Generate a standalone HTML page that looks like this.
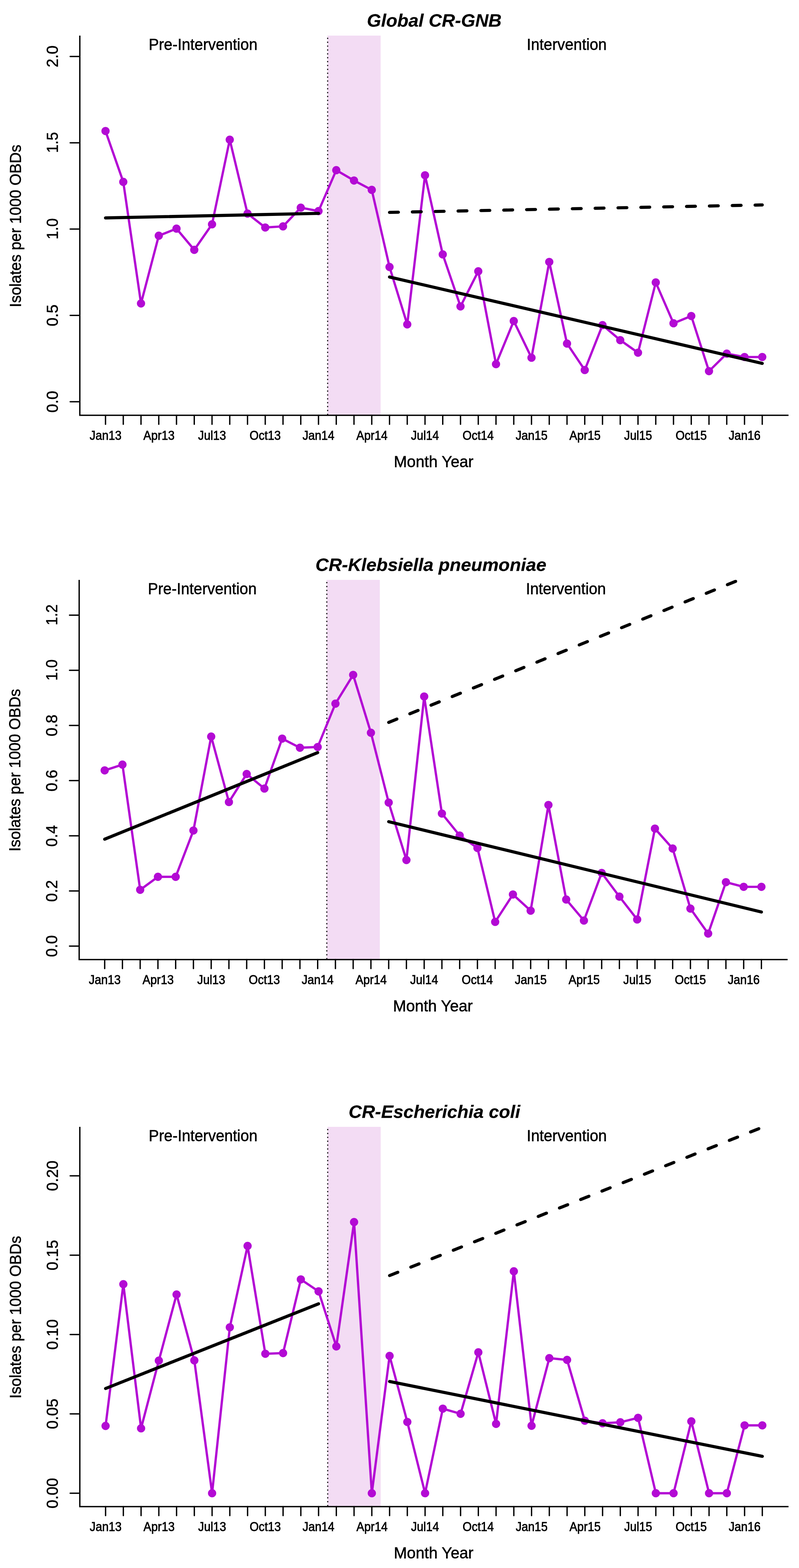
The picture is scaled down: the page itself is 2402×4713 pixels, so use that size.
<!DOCTYPE html>
<html><head><meta charset="utf-8"><title>ITS plots</title>
<style>html,body{margin:0;padding:0;background:#fff;}svg{display:block;}</style>
</head><body>
<svg width="2402" height="4713" viewBox="0 0 2402 4713" font-family="&quot;Liberation Sans&quot;, Arial, sans-serif">
<rect width="2402" height="4713" fill="#fff"/>
<clipPath id="clip0"><rect x="240.0" y="107.0" width="2130.5" height="1141.3"/></clipPath>
<rect x="984.2" y="107.0" width="160.1" height="1141.3" fill="#F3DCF4"/>
<line x1="985.0" y1="107.0" x2="985.0" y2="1248.3" stroke="#000" stroke-width="3.9" stroke-dasharray="0 11.65" stroke-dashoffset="-8.3" stroke-linecap="round"/>
<polyline points="317.2,393.8 370.6,546.7 423.9,912.1 477.3,708.5 530.6,687.2 584.0,751.0 637.4,674.2 690.7,419.9 744.1,642.0 797.4,683.8 850.8,680.4 904.2,624.2 957.5,634.5 1010.9,511.5 1064.2,542.6 1117.6,570.7 1171.0,802.4 1224.3,975.1 1277.7,526.8 1331.0,764.7 1384.4,921.0 1437.8,815.4 1491.1,1094.4 1544.5,964.9 1597.8,1075.2 1651.2,787.3 1704.6,1032.7 1757.9,1112.2 1811.3,977.2 1864.6,1022.4 1918.0,1060.1 1971.4,849.0 2024.7,971.7 2078.1,949.8 2131.4,1115.6 2184.8,1062.9 2238.2,1073.1 2291.5,1073.1" fill="none" stroke="#B30AD4" stroke-width="6.9" stroke-linejoin="round"/>
<circle cx="317.2" cy="393.8" r="12.4" fill="#B30AD4"/>
<circle cx="370.6" cy="546.7" r="12.4" fill="#B30AD4"/>
<circle cx="423.9" cy="912.1" r="12.4" fill="#B30AD4"/>
<circle cx="477.3" cy="708.5" r="12.4" fill="#B30AD4"/>
<circle cx="530.6" cy="687.2" r="12.4" fill="#B30AD4"/>
<circle cx="584.0" cy="751.0" r="12.4" fill="#B30AD4"/>
<circle cx="637.4" cy="674.2" r="12.4" fill="#B30AD4"/>
<circle cx="690.7" cy="419.9" r="12.4" fill="#B30AD4"/>
<circle cx="744.1" cy="642.0" r="12.4" fill="#B30AD4"/>
<circle cx="797.4" cy="683.8" r="12.4" fill="#B30AD4"/>
<circle cx="850.8" cy="680.4" r="12.4" fill="#B30AD4"/>
<circle cx="904.2" cy="624.2" r="12.4" fill="#B30AD4"/>
<circle cx="957.5" cy="634.5" r="12.4" fill="#B30AD4"/>
<circle cx="1010.9" cy="511.5" r="12.4" fill="#B30AD4"/>
<circle cx="1064.2" cy="542.6" r="12.4" fill="#B30AD4"/>
<circle cx="1117.6" cy="570.7" r="12.4" fill="#B30AD4"/>
<circle cx="1171.0" cy="802.4" r="12.4" fill="#B30AD4"/>
<circle cx="1224.3" cy="975.1" r="12.4" fill="#B30AD4"/>
<circle cx="1277.7" cy="526.8" r="12.4" fill="#B30AD4"/>
<circle cx="1331.0" cy="764.7" r="12.4" fill="#B30AD4"/>
<circle cx="1384.4" cy="921.0" r="12.4" fill="#B30AD4"/>
<circle cx="1437.8" cy="815.4" r="12.4" fill="#B30AD4"/>
<circle cx="1491.1" cy="1094.4" r="12.4" fill="#B30AD4"/>
<circle cx="1544.5" cy="964.9" r="12.4" fill="#B30AD4"/>
<circle cx="1597.8" cy="1075.2" r="12.4" fill="#B30AD4"/>
<circle cx="1651.2" cy="787.3" r="12.4" fill="#B30AD4"/>
<circle cx="1704.6" cy="1032.7" r="12.4" fill="#B30AD4"/>
<circle cx="1757.9" cy="1112.2" r="12.4" fill="#B30AD4"/>
<circle cx="1811.3" cy="977.2" r="12.4" fill="#B30AD4"/>
<circle cx="1864.6" cy="1022.4" r="12.4" fill="#B30AD4"/>
<circle cx="1918.0" cy="1060.1" r="12.4" fill="#B30AD4"/>
<circle cx="1971.4" cy="849.0" r="12.4" fill="#B30AD4"/>
<circle cx="2024.7" cy="971.7" r="12.4" fill="#B30AD4"/>
<circle cx="2078.1" cy="949.8" r="12.4" fill="#B30AD4"/>
<circle cx="2131.4" cy="1115.6" r="12.4" fill="#B30AD4"/>
<circle cx="2184.8" cy="1062.9" r="12.4" fill="#B30AD4"/>
<circle cx="2238.2" cy="1073.1" r="12.4" fill="#B30AD4"/>
<circle cx="2291.5" cy="1073.1" r="12.4" fill="#B30AD4"/>
<line x1="317.2" y1="655.0" x2="957.5" y2="641.4" stroke="#000" stroke-width="9.4" stroke-linecap="round"/>
<line x1="1171.0" y1="832.6" x2="2291.5" y2="1092.3" stroke="#000" stroke-width="9.4" stroke-linecap="round"/>
<g clip-path="url(#clip0)"><line x1="1171.0" y1="638.4" x2="2291.5" y2="616.0" stroke="#000" stroke-width="9.4" stroke-linecap="round" stroke-dasharray="26.6 42.1"/></g>
<path d="M240.0,107.0 V1248.3 H2370.5" fill="none" stroke="#000" stroke-width="4" stroke-linecap="butt" stroke-linejoin="miter"/>
<line x1="211.0" y1="1207.5" x2="240.0" y2="1207.5" stroke="#000" stroke-width="4" stroke-linecap="round"/>
<line x1="211.0" y1="948.0" x2="240.0" y2="948.0" stroke="#000" stroke-width="4" stroke-linecap="round"/>
<line x1="211.0" y1="688.6" x2="240.0" y2="688.6" stroke="#000" stroke-width="4" stroke-linecap="round"/>
<line x1="211.0" y1="429.2" x2="240.0" y2="429.2" stroke="#000" stroke-width="4" stroke-linecap="round"/>
<line x1="211.0" y1="169.7" x2="240.0" y2="169.7" stroke="#000" stroke-width="4" stroke-linecap="round"/>
<line x1="317.2" y1="1248.3" x2="317.2" y2="1275.3" stroke="#000" stroke-width="4" stroke-linecap="round"/>
<line x1="370.6" y1="1248.3" x2="370.6" y2="1275.3" stroke="#000" stroke-width="4" stroke-linecap="round"/>
<line x1="423.9" y1="1248.3" x2="423.9" y2="1275.3" stroke="#000" stroke-width="4" stroke-linecap="round"/>
<line x1="477.3" y1="1248.3" x2="477.3" y2="1275.3" stroke="#000" stroke-width="4" stroke-linecap="round"/>
<line x1="530.6" y1="1248.3" x2="530.6" y2="1275.3" stroke="#000" stroke-width="4" stroke-linecap="round"/>
<line x1="584.0" y1="1248.3" x2="584.0" y2="1275.3" stroke="#000" stroke-width="4" stroke-linecap="round"/>
<line x1="637.4" y1="1248.3" x2="637.4" y2="1275.3" stroke="#000" stroke-width="4" stroke-linecap="round"/>
<line x1="690.7" y1="1248.3" x2="690.7" y2="1275.3" stroke="#000" stroke-width="4" stroke-linecap="round"/>
<line x1="744.1" y1="1248.3" x2="744.1" y2="1275.3" stroke="#000" stroke-width="4" stroke-linecap="round"/>
<line x1="797.4" y1="1248.3" x2="797.4" y2="1275.3" stroke="#000" stroke-width="4" stroke-linecap="round"/>
<line x1="850.8" y1="1248.3" x2="850.8" y2="1275.3" stroke="#000" stroke-width="4" stroke-linecap="round"/>
<line x1="904.2" y1="1248.3" x2="904.2" y2="1275.3" stroke="#000" stroke-width="4" stroke-linecap="round"/>
<line x1="957.5" y1="1248.3" x2="957.5" y2="1275.3" stroke="#000" stroke-width="4" stroke-linecap="round"/>
<line x1="1010.9" y1="1248.3" x2="1010.9" y2="1275.3" stroke="#000" stroke-width="4" stroke-linecap="round"/>
<line x1="1064.2" y1="1248.3" x2="1064.2" y2="1275.3" stroke="#000" stroke-width="4" stroke-linecap="round"/>
<line x1="1117.6" y1="1248.3" x2="1117.6" y2="1275.3" stroke="#000" stroke-width="4" stroke-linecap="round"/>
<line x1="1171.0" y1="1248.3" x2="1171.0" y2="1275.3" stroke="#000" stroke-width="4" stroke-linecap="round"/>
<line x1="1224.3" y1="1248.3" x2="1224.3" y2="1275.3" stroke="#000" stroke-width="4" stroke-linecap="round"/>
<line x1="1277.7" y1="1248.3" x2="1277.7" y2="1275.3" stroke="#000" stroke-width="4" stroke-linecap="round"/>
<line x1="1331.0" y1="1248.3" x2="1331.0" y2="1275.3" stroke="#000" stroke-width="4" stroke-linecap="round"/>
<line x1="1384.4" y1="1248.3" x2="1384.4" y2="1275.3" stroke="#000" stroke-width="4" stroke-linecap="round"/>
<line x1="1437.8" y1="1248.3" x2="1437.8" y2="1275.3" stroke="#000" stroke-width="4" stroke-linecap="round"/>
<line x1="1491.1" y1="1248.3" x2="1491.1" y2="1275.3" stroke="#000" stroke-width="4" stroke-linecap="round"/>
<line x1="1544.5" y1="1248.3" x2="1544.5" y2="1275.3" stroke="#000" stroke-width="4" stroke-linecap="round"/>
<line x1="1597.8" y1="1248.3" x2="1597.8" y2="1275.3" stroke="#000" stroke-width="4" stroke-linecap="round"/>
<line x1="1651.2" y1="1248.3" x2="1651.2" y2="1275.3" stroke="#000" stroke-width="4" stroke-linecap="round"/>
<line x1="1704.6" y1="1248.3" x2="1704.6" y2="1275.3" stroke="#000" stroke-width="4" stroke-linecap="round"/>
<line x1="1757.9" y1="1248.3" x2="1757.9" y2="1275.3" stroke="#000" stroke-width="4" stroke-linecap="round"/>
<line x1="1811.3" y1="1248.3" x2="1811.3" y2="1275.3" stroke="#000" stroke-width="4" stroke-linecap="round"/>
<line x1="1864.6" y1="1248.3" x2="1864.6" y2="1275.3" stroke="#000" stroke-width="4" stroke-linecap="round"/>
<line x1="1918.0" y1="1248.3" x2="1918.0" y2="1275.3" stroke="#000" stroke-width="4" stroke-linecap="round"/>
<line x1="1971.4" y1="1248.3" x2="1971.4" y2="1275.3" stroke="#000" stroke-width="4" stroke-linecap="round"/>
<line x1="2024.7" y1="1248.3" x2="2024.7" y2="1275.3" stroke="#000" stroke-width="4" stroke-linecap="round"/>
<line x1="2078.1" y1="1248.3" x2="2078.1" y2="1275.3" stroke="#000" stroke-width="4" stroke-linecap="round"/>
<line x1="2131.4" y1="1248.3" x2="2131.4" y2="1275.3" stroke="#000" stroke-width="4" stroke-linecap="round"/>
<line x1="2184.8" y1="1248.3" x2="2184.8" y2="1275.3" stroke="#000" stroke-width="4" stroke-linecap="round"/>
<line x1="2238.2" y1="1248.3" x2="2238.2" y2="1275.3" stroke="#000" stroke-width="4" stroke-linecap="round"/>
<line x1="2291.5" y1="1248.3" x2="2291.5" y2="1275.3" stroke="#000" stroke-width="4" stroke-linecap="round"/>
<text transform="translate(1103.1,79.5) scale(1.0053,1)" font-size="54.5" font-weight="bold" font-style="italic" stroke="#000" stroke-width="0.3">Global CR-GNB</text>
<text transform="translate(446.9,150.0) scale(0.9384,1)" font-size="49.0" stroke="#000" stroke-width="0.8">Pre-Intervention</text>
<text transform="translate(1583.4,150.0) scale(0.9395,1)" font-size="49.0" stroke="#000" stroke-width="0.8">Intervention</text>
<text transform="translate(269.6,1322.3) scale(0.9070,1)" font-size="38.8" stroke="#000" stroke-width="1.1">Jan13</text>
<text transform="translate(431.0,1322.3) scale(0.9070,1)" font-size="38.8" stroke="#000" stroke-width="1.1">Apr13</text>
<text transform="translate(595.6,1322.3) scale(0.9070,1)" font-size="38.8" stroke="#000" stroke-width="1.1">Jul13</text>
<text transform="translate(750.3,1322.3) scale(0.9070,1)" font-size="38.8" stroke="#000" stroke-width="1.1">Oct13</text>
<text transform="translate(909.4,1322.3) scale(0.9070,1)" font-size="38.8" stroke="#000" stroke-width="1.1">Jan14</text>
<text transform="translate(1071.3,1322.3) scale(0.9070,1)" font-size="38.8" stroke="#000" stroke-width="1.1">Apr14</text>
<text transform="translate(1235.5,1322.3) scale(0.9070,1)" font-size="38.8" stroke="#000" stroke-width="1.1">Jul14</text>
<text transform="translate(1390.6,1322.3) scale(0.9070,1)" font-size="38.8" stroke="#000" stroke-width="1.1">Oct14</text>
<text transform="translate(1550.2,1322.3) scale(0.9070,1)" font-size="38.8" stroke="#000" stroke-width="1.1">Jan15</text>
<text transform="translate(1711.7,1322.3) scale(0.9070,1)" font-size="38.8" stroke="#000" stroke-width="1.1">Apr15</text>
<text transform="translate(1876.3,1322.3) scale(0.9070,1)" font-size="38.8" stroke="#000" stroke-width="1.1">Jul15</text>
<text transform="translate(2030.9,1322.3) scale(0.9070,1)" font-size="38.8" stroke="#000" stroke-width="1.1">Oct15</text>
<text transform="translate(2190.5,1322.3) scale(0.9070,1)" font-size="38.8" stroke="#000" stroke-width="1.1">Jan16</text>
<text transform="translate(1183.9,1404.3) scale(0.9866,1)" font-size="48.0" stroke="#000" stroke-width="0.8">Month Year</text>
<text transform="translate(63.0,923.4) rotate(-90) scale(0.9432,1)" font-size="48.8" stroke="#000" stroke-width="0.8">Isolates per 1000 OBDs</text>
<text transform="translate(173.5,1240.3) rotate(-90) scale(0.9641,1)" font-size="49.0" stroke="#000" stroke-width="0.8">0.0</text>
<text transform="translate(173.5,980.8) rotate(-90) scale(0.9641,1)" font-size="49.0" stroke="#000" stroke-width="0.8">0.5</text>
<text transform="translate(173.5,719.6) rotate(-90) scale(0.9355,1)" font-size="49.0" stroke="#000" stroke-width="0.8">1.0</text>
<text transform="translate(173.5,459.6) rotate(-90) scale(0.9194,1)" font-size="49.0" stroke="#000" stroke-width="0.8">1.5</text>
<text transform="translate(173.5,202.5) rotate(-90) scale(0.9641,1)" font-size="49.0" stroke="#000" stroke-width="0.8">2.0</text>
<clipPath id="clip1"><rect x="238.0" y="1743.0" width="2129.8" height="1141.1999999999998"/></clipPath>
<rect x="981.7" y="1743.0" width="160.1" height="1141.2" fill="#F3DCF4"/>
<line x1="982.5" y1="1743.0" x2="982.5" y2="2884.2" stroke="#000" stroke-width="3.9" stroke-dasharray="0 11.65" stroke-dashoffset="-8.3" stroke-linecap="round"/>
<polyline points="314.7,2315.6 368.1,2298.2 421.4,2674.6 474.8,2635.5 528.1,2635.5 581.5,2496.3 634.9,2213.9 688.2,2410.7 741.6,2326.4 794.9,2370.2 848.3,2220.1 901.7,2247.5 955.0,2245.3 1008.4,2115.0 1061.7,2028.6 1115.1,2202.5 1168.5,2412.3 1221.8,2585.0 1275.2,2093.6 1328.5,2445.3 1381.9,2511.3 1435.3,2548.8 1488.6,2770.9 1542.0,2688.6 1595.3,2737.3 1648.7,2419.6 1702.1,2703.7 1755.4,2766.9 1808.8,2623.8 1862.1,2695.0 1915.5,2763.7 1968.9,2490.6 2022.2,2550.5 2075.6,2731.0 2128.9,2806.1 2182.3,2651.6 2235.7,2665.6 2289.0,2665.6" fill="none" stroke="#B30AD4" stroke-width="6.9" stroke-linejoin="round"/>
<circle cx="314.7" cy="2315.6" r="12.4" fill="#B30AD4"/>
<circle cx="368.1" cy="2298.2" r="12.4" fill="#B30AD4"/>
<circle cx="421.4" cy="2674.6" r="12.4" fill="#B30AD4"/>
<circle cx="474.8" cy="2635.5" r="12.4" fill="#B30AD4"/>
<circle cx="528.1" cy="2635.5" r="12.4" fill="#B30AD4"/>
<circle cx="581.5" cy="2496.3" r="12.4" fill="#B30AD4"/>
<circle cx="634.9" cy="2213.9" r="12.4" fill="#B30AD4"/>
<circle cx="688.2" cy="2410.7" r="12.4" fill="#B30AD4"/>
<circle cx="741.6" cy="2326.4" r="12.4" fill="#B30AD4"/>
<circle cx="794.9" cy="2370.2" r="12.4" fill="#B30AD4"/>
<circle cx="848.3" cy="2220.1" r="12.4" fill="#B30AD4"/>
<circle cx="901.7" cy="2247.5" r="12.4" fill="#B30AD4"/>
<circle cx="955.0" cy="2245.3" r="12.4" fill="#B30AD4"/>
<circle cx="1008.4" cy="2115.0" r="12.4" fill="#B30AD4"/>
<circle cx="1061.7" cy="2028.6" r="12.4" fill="#B30AD4"/>
<circle cx="1115.1" cy="2202.5" r="12.4" fill="#B30AD4"/>
<circle cx="1168.5" cy="2412.3" r="12.4" fill="#B30AD4"/>
<circle cx="1221.8" cy="2585.0" r="12.4" fill="#B30AD4"/>
<circle cx="1275.2" cy="2093.6" r="12.4" fill="#B30AD4"/>
<circle cx="1328.5" cy="2445.3" r="12.4" fill="#B30AD4"/>
<circle cx="1381.9" cy="2511.3" r="12.4" fill="#B30AD4"/>
<circle cx="1435.3" cy="2548.8" r="12.4" fill="#B30AD4"/>
<circle cx="1488.6" cy="2770.9" r="12.4" fill="#B30AD4"/>
<circle cx="1542.0" cy="2688.6" r="12.4" fill="#B30AD4"/>
<circle cx="1595.3" cy="2737.3" r="12.4" fill="#B30AD4"/>
<circle cx="1648.7" cy="2419.6" r="12.4" fill="#B30AD4"/>
<circle cx="1702.1" cy="2703.7" r="12.4" fill="#B30AD4"/>
<circle cx="1755.4" cy="2766.9" r="12.4" fill="#B30AD4"/>
<circle cx="1808.8" cy="2623.8" r="12.4" fill="#B30AD4"/>
<circle cx="1862.1" cy="2695.0" r="12.4" fill="#B30AD4"/>
<circle cx="1915.5" cy="2763.7" r="12.4" fill="#B30AD4"/>
<circle cx="1968.9" cy="2490.6" r="12.4" fill="#B30AD4"/>
<circle cx="2022.2" cy="2550.5" r="12.4" fill="#B30AD4"/>
<circle cx="2075.6" cy="2731.0" r="12.4" fill="#B30AD4"/>
<circle cx="2128.9" cy="2806.1" r="12.4" fill="#B30AD4"/>
<circle cx="2182.3" cy="2651.6" r="12.4" fill="#B30AD4"/>
<circle cx="2235.7" cy="2665.6" r="12.4" fill="#B30AD4"/>
<circle cx="2289.0" cy="2665.6" r="12.4" fill="#B30AD4"/>
<line x1="314.7" y1="2522.4" x2="955.0" y2="2262.2" stroke="#000" stroke-width="9.4" stroke-linecap="round"/>
<line x1="1168.5" y1="2469.8" x2="2289.0" y2="2741.3" stroke="#000" stroke-width="9.4" stroke-linecap="round"/>
<g clip-path="url(#clip1)"><line x1="1168.5" y1="2171.3" x2="2289.0" y2="1715.9" stroke="#000" stroke-width="9.4" stroke-linecap="round" stroke-dasharray="26.6 42.1"/></g>
<path d="M238.0,1743.0 V2884.2 H2367.8" fill="none" stroke="#000" stroke-width="4" stroke-linecap="butt" stroke-linejoin="miter"/>
<line x1="209.0" y1="2843.8" x2="238.0" y2="2843.8" stroke="#000" stroke-width="4" stroke-linecap="round"/>
<line x1="209.0" y1="2678.0" x2="238.0" y2="2678.0" stroke="#000" stroke-width="4" stroke-linecap="round"/>
<line x1="209.0" y1="2512.2" x2="238.0" y2="2512.2" stroke="#000" stroke-width="4" stroke-linecap="round"/>
<line x1="209.0" y1="2346.3" x2="238.0" y2="2346.3" stroke="#000" stroke-width="4" stroke-linecap="round"/>
<line x1="209.0" y1="2180.5" x2="238.0" y2="2180.5" stroke="#000" stroke-width="4" stroke-linecap="round"/>
<line x1="209.0" y1="2014.7" x2="238.0" y2="2014.7" stroke="#000" stroke-width="4" stroke-linecap="round"/>
<line x1="209.0" y1="1848.9" x2="238.0" y2="1848.9" stroke="#000" stroke-width="4" stroke-linecap="round"/>
<line x1="314.7" y1="2884.2" x2="314.7" y2="2911.2" stroke="#000" stroke-width="4" stroke-linecap="round"/>
<line x1="368.1" y1="2884.2" x2="368.1" y2="2911.2" stroke="#000" stroke-width="4" stroke-linecap="round"/>
<line x1="421.4" y1="2884.2" x2="421.4" y2="2911.2" stroke="#000" stroke-width="4" stroke-linecap="round"/>
<line x1="474.8" y1="2884.2" x2="474.8" y2="2911.2" stroke="#000" stroke-width="4" stroke-linecap="round"/>
<line x1="528.1" y1="2884.2" x2="528.1" y2="2911.2" stroke="#000" stroke-width="4" stroke-linecap="round"/>
<line x1="581.5" y1="2884.2" x2="581.5" y2="2911.2" stroke="#000" stroke-width="4" stroke-linecap="round"/>
<line x1="634.9" y1="2884.2" x2="634.9" y2="2911.2" stroke="#000" stroke-width="4" stroke-linecap="round"/>
<line x1="688.2" y1="2884.2" x2="688.2" y2="2911.2" stroke="#000" stroke-width="4" stroke-linecap="round"/>
<line x1="741.6" y1="2884.2" x2="741.6" y2="2911.2" stroke="#000" stroke-width="4" stroke-linecap="round"/>
<line x1="794.9" y1="2884.2" x2="794.9" y2="2911.2" stroke="#000" stroke-width="4" stroke-linecap="round"/>
<line x1="848.3" y1="2884.2" x2="848.3" y2="2911.2" stroke="#000" stroke-width="4" stroke-linecap="round"/>
<line x1="901.7" y1="2884.2" x2="901.7" y2="2911.2" stroke="#000" stroke-width="4" stroke-linecap="round"/>
<line x1="955.0" y1="2884.2" x2="955.0" y2="2911.2" stroke="#000" stroke-width="4" stroke-linecap="round"/>
<line x1="1008.4" y1="2884.2" x2="1008.4" y2="2911.2" stroke="#000" stroke-width="4" stroke-linecap="round"/>
<line x1="1061.7" y1="2884.2" x2="1061.7" y2="2911.2" stroke="#000" stroke-width="4" stroke-linecap="round"/>
<line x1="1115.1" y1="2884.2" x2="1115.1" y2="2911.2" stroke="#000" stroke-width="4" stroke-linecap="round"/>
<line x1="1168.5" y1="2884.2" x2="1168.5" y2="2911.2" stroke="#000" stroke-width="4" stroke-linecap="round"/>
<line x1="1221.8" y1="2884.2" x2="1221.8" y2="2911.2" stroke="#000" stroke-width="4" stroke-linecap="round"/>
<line x1="1275.2" y1="2884.2" x2="1275.2" y2="2911.2" stroke="#000" stroke-width="4" stroke-linecap="round"/>
<line x1="1328.5" y1="2884.2" x2="1328.5" y2="2911.2" stroke="#000" stroke-width="4" stroke-linecap="round"/>
<line x1="1381.9" y1="2884.2" x2="1381.9" y2="2911.2" stroke="#000" stroke-width="4" stroke-linecap="round"/>
<line x1="1435.3" y1="2884.2" x2="1435.3" y2="2911.2" stroke="#000" stroke-width="4" stroke-linecap="round"/>
<line x1="1488.6" y1="2884.2" x2="1488.6" y2="2911.2" stroke="#000" stroke-width="4" stroke-linecap="round"/>
<line x1="1542.0" y1="2884.2" x2="1542.0" y2="2911.2" stroke="#000" stroke-width="4" stroke-linecap="round"/>
<line x1="1595.3" y1="2884.2" x2="1595.3" y2="2911.2" stroke="#000" stroke-width="4" stroke-linecap="round"/>
<line x1="1648.7" y1="2884.2" x2="1648.7" y2="2911.2" stroke="#000" stroke-width="4" stroke-linecap="round"/>
<line x1="1702.1" y1="2884.2" x2="1702.1" y2="2911.2" stroke="#000" stroke-width="4" stroke-linecap="round"/>
<line x1="1755.4" y1="2884.2" x2="1755.4" y2="2911.2" stroke="#000" stroke-width="4" stroke-linecap="round"/>
<line x1="1808.8" y1="2884.2" x2="1808.8" y2="2911.2" stroke="#000" stroke-width="4" stroke-linecap="round"/>
<line x1="1862.1" y1="2884.2" x2="1862.1" y2="2911.2" stroke="#000" stroke-width="4" stroke-linecap="round"/>
<line x1="1915.5" y1="2884.2" x2="1915.5" y2="2911.2" stroke="#000" stroke-width="4" stroke-linecap="round"/>
<line x1="1968.9" y1="2884.2" x2="1968.9" y2="2911.2" stroke="#000" stroke-width="4" stroke-linecap="round"/>
<line x1="2022.2" y1="2884.2" x2="2022.2" y2="2911.2" stroke="#000" stroke-width="4" stroke-linecap="round"/>
<line x1="2075.6" y1="2884.2" x2="2075.6" y2="2911.2" stroke="#000" stroke-width="4" stroke-linecap="round"/>
<line x1="2128.9" y1="2884.2" x2="2128.9" y2="2911.2" stroke="#000" stroke-width="4" stroke-linecap="round"/>
<line x1="2182.3" y1="2884.2" x2="2182.3" y2="2911.2" stroke="#000" stroke-width="4" stroke-linecap="round"/>
<line x1="2235.7" y1="2884.2" x2="2235.7" y2="2911.2" stroke="#000" stroke-width="4" stroke-linecap="round"/>
<line x1="2289.0" y1="2884.2" x2="2289.0" y2="2911.2" stroke="#000" stroke-width="4" stroke-linecap="round"/>
<text transform="translate(948.3,1715.5) scale(1.0102,1)" font-size="54.5" font-weight="bold" font-style="italic" stroke="#000" stroke-width="0.3">CR-Klebsiella pneumoniae</text>
<text transform="translate(444.4,1786.0) scale(0.9384,1)" font-size="49.0" stroke="#000" stroke-width="0.8">Pre-Intervention</text>
<text transform="translate(1580.9,1786.0) scale(0.9395,1)" font-size="49.0" stroke="#000" stroke-width="0.8">Intervention</text>
<text transform="translate(267.1,2958.2) scale(0.9070,1)" font-size="38.8" stroke="#000" stroke-width="1.1">Jan13</text>
<text transform="translate(428.5,2958.2) scale(0.9070,1)" font-size="38.8" stroke="#000" stroke-width="1.1">Apr13</text>
<text transform="translate(593.1,2958.2) scale(0.9070,1)" font-size="38.8" stroke="#000" stroke-width="1.1">Jul13</text>
<text transform="translate(747.8,2958.2) scale(0.9070,1)" font-size="38.8" stroke="#000" stroke-width="1.1">Oct13</text>
<text transform="translate(906.9,2958.2) scale(0.9070,1)" font-size="38.8" stroke="#000" stroke-width="1.1">Jan14</text>
<text transform="translate(1068.8,2958.2) scale(0.9070,1)" font-size="38.8" stroke="#000" stroke-width="1.1">Apr14</text>
<text transform="translate(1233.0,2958.2) scale(0.9070,1)" font-size="38.8" stroke="#000" stroke-width="1.1">Jul14</text>
<text transform="translate(1388.1,2958.2) scale(0.9070,1)" font-size="38.8" stroke="#000" stroke-width="1.1">Oct14</text>
<text transform="translate(1547.7,2958.2) scale(0.9070,1)" font-size="38.8" stroke="#000" stroke-width="1.1">Jan15</text>
<text transform="translate(1709.2,2958.2) scale(0.9070,1)" font-size="38.8" stroke="#000" stroke-width="1.1">Apr15</text>
<text transform="translate(1873.8,2958.2) scale(0.9070,1)" font-size="38.8" stroke="#000" stroke-width="1.1">Jul15</text>
<text transform="translate(2028.4,2958.2) scale(0.9070,1)" font-size="38.8" stroke="#000" stroke-width="1.1">Oct15</text>
<text transform="translate(2188.0,2958.2) scale(0.9070,1)" font-size="38.8" stroke="#000" stroke-width="1.1">Jan16</text>
<text transform="translate(1181.6,3040.2) scale(0.9866,1)" font-size="48.0" stroke="#000" stroke-width="0.8">Month Year</text>
<text transform="translate(61.0,2559.3) rotate(-90) scale(0.9432,1)" font-size="48.8" stroke="#000" stroke-width="0.8">Isolates per 1000 OBDs</text>
<text transform="translate(171.5,2876.6) rotate(-90) scale(0.9641,1)" font-size="49.0" stroke="#000" stroke-width="0.8">0.0</text>
<text transform="translate(171.5,2710.8) rotate(-90) scale(0.9641,1)" font-size="49.0" stroke="#000" stroke-width="0.8">0.2</text>
<text transform="translate(171.5,2544.9) rotate(-90) scale(0.9492,1)" font-size="49.0" stroke="#000" stroke-width="0.8">0.4</text>
<text transform="translate(171.5,2379.1) rotate(-90) scale(0.9641,1)" font-size="49.0" stroke="#000" stroke-width="0.8">0.6</text>
<text transform="translate(171.5,2213.3) rotate(-90) scale(0.9641,1)" font-size="49.0" stroke="#000" stroke-width="0.8">0.8</text>
<text transform="translate(171.5,2045.7) rotate(-90) scale(0.9355,1)" font-size="49.0" stroke="#000" stroke-width="0.8">1.0</text>
<text transform="translate(171.5,1879.5) rotate(-90) scale(0.9242,1)" font-size="49.0" stroke="#000" stroke-width="0.8">1.2</text>
<clipPath id="clip2"><rect x="240.0" y="3387.0" width="2130.5" height="1141.3999999999996"/></clipPath>
<rect x="984.4" y="3387.0" width="160.1" height="1141.4" fill="#F3DCF4"/>
<line x1="985.2" y1="3387.0" x2="985.2" y2="4528.4" stroke="#000" stroke-width="3.9" stroke-dasharray="0 11.65" stroke-dashoffset="-8.3" stroke-linecap="round"/>
<polyline points="317.4,4286.0 370.8,3860.0 424.1,4293.2 477.5,4089.7 530.8,3890.9 584.2,4089.0 637.6,4488.2 690.9,3989.6 744.3,3744.9 797.6,4069.1 851.0,4067.0 904.4,3845.6 957.7,3881.5 1011.1,4047.0 1064.4,3673.2 1117.8,4488.2 1171.2,4075.4 1224.5,4274.1 1277.9,4488.2 1331.2,4234.1 1384.6,4249.5 1438.0,4064.7 1491.3,4279.8 1544.7,3821.2 1598.0,4285.5 1651.4,4082.2 1704.8,4087.5 1758.1,4270.3 1811.5,4277.9 1864.8,4275.0 1918.2,4261.7 1971.6,4488.2 2024.9,4488.2 2078.3,4272.2 2131.6,4488.2 2185.0,4488.2 2238.4,4284.3 2291.7,4284.3" fill="none" stroke="#B30AD4" stroke-width="6.9" stroke-linejoin="round"/>
<circle cx="317.4" cy="4286.0" r="12.4" fill="#B30AD4"/>
<circle cx="370.8" cy="3860.0" r="12.4" fill="#B30AD4"/>
<circle cx="424.1" cy="4293.2" r="12.4" fill="#B30AD4"/>
<circle cx="477.5" cy="4089.7" r="12.4" fill="#B30AD4"/>
<circle cx="530.8" cy="3890.9" r="12.4" fill="#B30AD4"/>
<circle cx="584.2" cy="4089.0" r="12.4" fill="#B30AD4"/>
<circle cx="637.6" cy="4488.2" r="12.4" fill="#B30AD4"/>
<circle cx="690.9" cy="3989.6" r="12.4" fill="#B30AD4"/>
<circle cx="744.3" cy="3744.9" r="12.4" fill="#B30AD4"/>
<circle cx="797.6" cy="4069.1" r="12.4" fill="#B30AD4"/>
<circle cx="851.0" cy="4067.0" r="12.4" fill="#B30AD4"/>
<circle cx="904.4" cy="3845.6" r="12.4" fill="#B30AD4"/>
<circle cx="957.7" cy="3881.5" r="12.4" fill="#B30AD4"/>
<circle cx="1011.1" cy="4047.0" r="12.4" fill="#B30AD4"/>
<circle cx="1064.4" cy="3673.2" r="12.4" fill="#B30AD4"/>
<circle cx="1117.8" cy="4488.2" r="12.4" fill="#B30AD4"/>
<circle cx="1171.2" cy="4075.4" r="12.4" fill="#B30AD4"/>
<circle cx="1224.5" cy="4274.1" r="12.4" fill="#B30AD4"/>
<circle cx="1277.9" cy="4488.2" r="12.4" fill="#B30AD4"/>
<circle cx="1331.2" cy="4234.1" r="12.4" fill="#B30AD4"/>
<circle cx="1384.6" cy="4249.5" r="12.4" fill="#B30AD4"/>
<circle cx="1438.0" cy="4064.7" r="12.4" fill="#B30AD4"/>
<circle cx="1491.3" cy="4279.8" r="12.4" fill="#B30AD4"/>
<circle cx="1544.7" cy="3821.2" r="12.4" fill="#B30AD4"/>
<circle cx="1598.0" cy="4285.5" r="12.4" fill="#B30AD4"/>
<circle cx="1651.4" cy="4082.2" r="12.4" fill="#B30AD4"/>
<circle cx="1704.8" cy="4087.5" r="12.4" fill="#B30AD4"/>
<circle cx="1758.1" cy="4270.3" r="12.4" fill="#B30AD4"/>
<circle cx="1811.5" cy="4277.9" r="12.4" fill="#B30AD4"/>
<circle cx="1864.8" cy="4275.0" r="12.4" fill="#B30AD4"/>
<circle cx="1918.2" cy="4261.7" r="12.4" fill="#B30AD4"/>
<circle cx="1971.6" cy="4488.2" r="12.4" fill="#B30AD4"/>
<circle cx="2024.9" cy="4488.2" r="12.4" fill="#B30AD4"/>
<circle cx="2078.3" cy="4272.2" r="12.4" fill="#B30AD4"/>
<circle cx="2131.6" cy="4488.2" r="12.4" fill="#B30AD4"/>
<circle cx="2185.0" cy="4488.2" r="12.4" fill="#B30AD4"/>
<circle cx="2238.4" cy="4284.3" r="12.4" fill="#B30AD4"/>
<circle cx="2291.7" cy="4284.3" r="12.4" fill="#B30AD4"/>
<line x1="317.4" y1="4173.5" x2="957.7" y2="3918.8" stroke="#000" stroke-width="9.4" stroke-linecap="round"/>
<line x1="1171.2" y1="4152.4" x2="2291.7" y2="4377.4" stroke="#000" stroke-width="9.4" stroke-linecap="round"/>
<g clip-path="url(#clip2)"><line x1="1171.2" y1="3834.0" x2="2291.7" y2="3388.3" stroke="#000" stroke-width="9.4" stroke-linecap="round" stroke-dasharray="26.6 42.1"/></g>
<path d="M240.0,3387.0 V4528.4 H2370.5" fill="none" stroke="#000" stroke-width="4" stroke-linecap="butt" stroke-linejoin="miter"/>
<line x1="211.0" y1="4488.2" x2="240.0" y2="4488.2" stroke="#000" stroke-width="4" stroke-linecap="round"/>
<line x1="211.0" y1="4249.7" x2="240.0" y2="4249.7" stroke="#000" stroke-width="4" stroke-linecap="round"/>
<line x1="211.0" y1="4011.2" x2="240.0" y2="4011.2" stroke="#000" stroke-width="4" stroke-linecap="round"/>
<line x1="211.0" y1="3772.7" x2="240.0" y2="3772.7" stroke="#000" stroke-width="4" stroke-linecap="round"/>
<line x1="211.0" y1="3534.2" x2="240.0" y2="3534.2" stroke="#000" stroke-width="4" stroke-linecap="round"/>
<line x1="317.4" y1="4528.4" x2="317.4" y2="4555.4" stroke="#000" stroke-width="4" stroke-linecap="round"/>
<line x1="370.8" y1="4528.4" x2="370.8" y2="4555.4" stroke="#000" stroke-width="4" stroke-linecap="round"/>
<line x1="424.1" y1="4528.4" x2="424.1" y2="4555.4" stroke="#000" stroke-width="4" stroke-linecap="round"/>
<line x1="477.5" y1="4528.4" x2="477.5" y2="4555.4" stroke="#000" stroke-width="4" stroke-linecap="round"/>
<line x1="530.8" y1="4528.4" x2="530.8" y2="4555.4" stroke="#000" stroke-width="4" stroke-linecap="round"/>
<line x1="584.2" y1="4528.4" x2="584.2" y2="4555.4" stroke="#000" stroke-width="4" stroke-linecap="round"/>
<line x1="637.6" y1="4528.4" x2="637.6" y2="4555.4" stroke="#000" stroke-width="4" stroke-linecap="round"/>
<line x1="690.9" y1="4528.4" x2="690.9" y2="4555.4" stroke="#000" stroke-width="4" stroke-linecap="round"/>
<line x1="744.3" y1="4528.4" x2="744.3" y2="4555.4" stroke="#000" stroke-width="4" stroke-linecap="round"/>
<line x1="797.6" y1="4528.4" x2="797.6" y2="4555.4" stroke="#000" stroke-width="4" stroke-linecap="round"/>
<line x1="851.0" y1="4528.4" x2="851.0" y2="4555.4" stroke="#000" stroke-width="4" stroke-linecap="round"/>
<line x1="904.4" y1="4528.4" x2="904.4" y2="4555.4" stroke="#000" stroke-width="4" stroke-linecap="round"/>
<line x1="957.7" y1="4528.4" x2="957.7" y2="4555.4" stroke="#000" stroke-width="4" stroke-linecap="round"/>
<line x1="1011.1" y1="4528.4" x2="1011.1" y2="4555.4" stroke="#000" stroke-width="4" stroke-linecap="round"/>
<line x1="1064.4" y1="4528.4" x2="1064.4" y2="4555.4" stroke="#000" stroke-width="4" stroke-linecap="round"/>
<line x1="1117.8" y1="4528.4" x2="1117.8" y2="4555.4" stroke="#000" stroke-width="4" stroke-linecap="round"/>
<line x1="1171.2" y1="4528.4" x2="1171.2" y2="4555.4" stroke="#000" stroke-width="4" stroke-linecap="round"/>
<line x1="1224.5" y1="4528.4" x2="1224.5" y2="4555.4" stroke="#000" stroke-width="4" stroke-linecap="round"/>
<line x1="1277.9" y1="4528.4" x2="1277.9" y2="4555.4" stroke="#000" stroke-width="4" stroke-linecap="round"/>
<line x1="1331.2" y1="4528.4" x2="1331.2" y2="4555.4" stroke="#000" stroke-width="4" stroke-linecap="round"/>
<line x1="1384.6" y1="4528.4" x2="1384.6" y2="4555.4" stroke="#000" stroke-width="4" stroke-linecap="round"/>
<line x1="1438.0" y1="4528.4" x2="1438.0" y2="4555.4" stroke="#000" stroke-width="4" stroke-linecap="round"/>
<line x1="1491.3" y1="4528.4" x2="1491.3" y2="4555.4" stroke="#000" stroke-width="4" stroke-linecap="round"/>
<line x1="1544.7" y1="4528.4" x2="1544.7" y2="4555.4" stroke="#000" stroke-width="4" stroke-linecap="round"/>
<line x1="1598.0" y1="4528.4" x2="1598.0" y2="4555.4" stroke="#000" stroke-width="4" stroke-linecap="round"/>
<line x1="1651.4" y1="4528.4" x2="1651.4" y2="4555.4" stroke="#000" stroke-width="4" stroke-linecap="round"/>
<line x1="1704.8" y1="4528.4" x2="1704.8" y2="4555.4" stroke="#000" stroke-width="4" stroke-linecap="round"/>
<line x1="1758.1" y1="4528.4" x2="1758.1" y2="4555.4" stroke="#000" stroke-width="4" stroke-linecap="round"/>
<line x1="1811.5" y1="4528.4" x2="1811.5" y2="4555.4" stroke="#000" stroke-width="4" stroke-linecap="round"/>
<line x1="1864.8" y1="4528.4" x2="1864.8" y2="4555.4" stroke="#000" stroke-width="4" stroke-linecap="round"/>
<line x1="1918.2" y1="4528.4" x2="1918.2" y2="4555.4" stroke="#000" stroke-width="4" stroke-linecap="round"/>
<line x1="1971.6" y1="4528.4" x2="1971.6" y2="4555.4" stroke="#000" stroke-width="4" stroke-linecap="round"/>
<line x1="2024.9" y1="4528.4" x2="2024.9" y2="4555.4" stroke="#000" stroke-width="4" stroke-linecap="round"/>
<line x1="2078.3" y1="4528.4" x2="2078.3" y2="4555.4" stroke="#000" stroke-width="4" stroke-linecap="round"/>
<line x1="2131.6" y1="4528.4" x2="2131.6" y2="4555.4" stroke="#000" stroke-width="4" stroke-linecap="round"/>
<line x1="2185.0" y1="4528.4" x2="2185.0" y2="4555.4" stroke="#000" stroke-width="4" stroke-linecap="round"/>
<line x1="2238.4" y1="4528.4" x2="2238.4" y2="4555.4" stroke="#000" stroke-width="4" stroke-linecap="round"/>
<line x1="2291.7" y1="4528.4" x2="2291.7" y2="4555.4" stroke="#000" stroke-width="4" stroke-linecap="round"/>
<text transform="translate(1048.0,3359.5) scale(1.0084,1)" font-size="54.5" font-weight="bold" font-style="italic" stroke="#000" stroke-width="0.3">CR-Escherichia coli</text>
<text transform="translate(447.1,3430.0) scale(0.9384,1)" font-size="49.0" stroke="#000" stroke-width="0.8">Pre-Intervention</text>
<text transform="translate(1583.6,3430.0) scale(0.9395,1)" font-size="49.0" stroke="#000" stroke-width="0.8">Intervention</text>
<text transform="translate(269.8,4602.4) scale(0.9070,1)" font-size="38.8" stroke="#000" stroke-width="1.1">Jan13</text>
<text transform="translate(431.2,4602.4) scale(0.9070,1)" font-size="38.8" stroke="#000" stroke-width="1.1">Apr13</text>
<text transform="translate(595.8,4602.4) scale(0.9070,1)" font-size="38.8" stroke="#000" stroke-width="1.1">Jul13</text>
<text transform="translate(750.5,4602.4) scale(0.9070,1)" font-size="38.8" stroke="#000" stroke-width="1.1">Oct13</text>
<text transform="translate(909.6,4602.4) scale(0.9070,1)" font-size="38.8" stroke="#000" stroke-width="1.1">Jan14</text>
<text transform="translate(1071.5,4602.4) scale(0.9070,1)" font-size="38.8" stroke="#000" stroke-width="1.1">Apr14</text>
<text transform="translate(1235.7,4602.4) scale(0.9070,1)" font-size="38.8" stroke="#000" stroke-width="1.1">Jul14</text>
<text transform="translate(1390.8,4602.4) scale(0.9070,1)" font-size="38.8" stroke="#000" stroke-width="1.1">Oct14</text>
<text transform="translate(1550.4,4602.4) scale(0.9070,1)" font-size="38.8" stroke="#000" stroke-width="1.1">Jan15</text>
<text transform="translate(1711.9,4602.4) scale(0.9070,1)" font-size="38.8" stroke="#000" stroke-width="1.1">Apr15</text>
<text transform="translate(1876.5,4602.4) scale(0.9070,1)" font-size="38.8" stroke="#000" stroke-width="1.1">Jul15</text>
<text transform="translate(2031.1,4602.4) scale(0.9070,1)" font-size="38.8" stroke="#000" stroke-width="1.1">Oct15</text>
<text transform="translate(2190.7,4602.4) scale(0.9070,1)" font-size="38.8" stroke="#000" stroke-width="1.1">Jan16</text>
<text transform="translate(1183.9,4684.4) scale(0.9866,1)" font-size="48.0" stroke="#000" stroke-width="0.8">Month Year</text>
<text transform="translate(63.0,4203.4) rotate(-90) scale(0.9432,1)" font-size="48.8" stroke="#000" stroke-width="0.8">Isolates per 1000 OBDs</text>
<text transform="translate(173.5,4533.9) rotate(-90) scale(0.9615,1)" font-size="49.0" stroke="#000" stroke-width="0.8">0.00</text>
<text transform="translate(173.5,4295.4) rotate(-90) scale(0.9615,1)" font-size="49.0" stroke="#000" stroke-width="0.8">0.05</text>
<text transform="translate(173.5,4056.9) rotate(-90) scale(0.9615,1)" font-size="49.0" stroke="#000" stroke-width="0.8">0.10</text>
<text transform="translate(173.5,3818.4) rotate(-90) scale(0.9615,1)" font-size="49.0" stroke="#000" stroke-width="0.8">0.15</text>
<text transform="translate(173.5,3579.9) rotate(-90) scale(0.9615,1)" font-size="49.0" stroke="#000" stroke-width="0.8">0.20</text>
</svg>
</body></html>
